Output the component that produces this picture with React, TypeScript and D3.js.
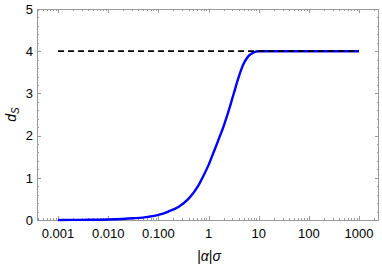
import React, { useEffect, useRef } from 'react'
import * as d3 from 'd3'

// curve: |alpha| sigma vs d_S
const sigmaValues = [0.001, 0.00316, 0.01, 0.0316, 0.063, 0.1, 0.158, 0.251, 0.398, 0.631, 0.794, 1, 1.26, 1.58, 2, 2.51, 3.16, 3.98, 5.01, 6.31, 7.94, 10, 100, 1000]
const dsValues = [0.001, 0.004, 0.012, 0.04, 0.075, 0.12, 0.2, 0.31, 0.5, 0.82, 1.05, 1.3, 1.6, 1.9, 2.22, 2.58, 2.98, 3.38, 3.7, 3.89, 3.97, 4.0, 4.0, 4.0]

const limitX = [0.001, 1000]
const limitY = [4, 4]

const xTickValues = [0.001, 0.01, 0.1, 1, 10, 100, 1000]
const xTickLabels = ['0.001', '0.010', '0.100', '1', '10', '100', '1000']
const yTickValues = [0, 1, 2, 3, 4, 5]

const W = 382
const H = 267
const margin = { left: 37, right: 3, top: 9, bottom: 47 }
const frameColor = '#9a9a9a'

function App() {
    const ref = useRef<SVGSVGElement>(null)

    useEffect(() => {
        const svg = d3.select(ref.current)
        svg.selectAll('*').remove()

        const x0 = margin.left
        const x1 = W - margin.right
        const y0 = H - margin.bottom
        const y1 = margin.top

        const x = d3.scaleLog().domain([Math.pow(10, -3.42), Math.pow(10, 3.4)]).range([x0, x1])
        const y = d3.scaleLinear().domain([0, 5]).range([y0, y1])

        const font = 'Liberation Sans, Arial, sans-serif'

        // minor + major ticks
        const minorX: number[] = []
        for (let e = -4; e <= 3; e++) {
            for (let k = 1; k <= 9; k++) {
                const v = k * Math.pow(10, e)
                if (x(v) >= x0 && x(v) <= x1) minorX.push(v)
            }
        }
        const ticks = svg.append('g').attr('stroke', frameColor).attr('stroke-width', 1)
        minorX.forEach(v => {
            const major = xTickValues.some(t => Math.abs(t - v) / t < 1e-6)
            const len = major ? 4 : 2
            const px = Math.round(x(v)) + 0.5
            ticks.append('line').attr('x1', px).attr('x2', px).attr('y1', y0).attr('y2', y0 - len)
            ticks.append('line').attr('x1', px).attr('x2', px).attr('y1', y1).attr('y2', y1 + len)
        })
        d3.range(0, 5.001, 0.2).forEach(v => {
            const major = Math.abs(v - Math.round(v)) < 1e-6
            const len = major ? 4 : 2
            const py = Math.round(y(v)) + 0.5
            ticks.append('line').attr('x1', x0).attr('x2', x0 + len).attr('y1', py).attr('y2', py)
            ticks.append('line').attr('x1', x1).attr('x2', x1 - len).attr('y1', py).attr('y2', py)
        })

        // frame
        svg.append('rect')
            .attr('x', x0 + 0.5).attr('y', y1 + 0.5)
            .attr('width', x1 - x0 - 1).attr('height', y0 - y1)
            .attr('fill', 'none').attr('stroke', frameColor).attr('stroke-width', 1)

        // curve
        const pts = sigmaValues.map((s, i) => [s, dsValues[i]] as [number, number])
        const line = d3.line<[number, number]>()
            .x(d => x(d[0]))
            .y(d => y(d[1]))
            .curve(d3.curveMonotoneX)
        svg.append('path')
            .attr('d', line(pts))
            .attr('fill', 'none')
            .attr('stroke', '#0000ff')
            .attr('stroke-width', 2.4)

        // asymptote
        svg.append('path')
            .attr('d', line(limitX.map((s, i) => [s, limitY[i]] as [number, number])))
            .attr('fill', 'none')
            .attr('stroke', '#000')
            .attr('stroke-width', 1.8)
            .attr('stroke-dasharray', '6,4')

        // tick labels
        svg.append('g').selectAll('text').data(xTickValues).enter().append('text')
            .attr('x', d => x(d))
            .attr('y', 238)
            .attr('text-anchor', 'middle')
            .attr('font-family', font)
            .attr('font-size', 13)
            .text((d, i) => xTickLabels[i])
        svg.append('g').selectAll('text').data(yTickValues).enter().append('text')
            .attr('x', x0 - 4)
            .attr('y', d => y(d) + 4.7)
            .attr('text-anchor', 'end')
            .attr('font-family', font)
            .attr('font-size', 13)
            .text(d => d)

        // axis labels
        const xl = svg.append('text')
            .attr('x', (x0 + x1) / 2 + 1)
            .attr('y', 261)
            .attr('text-anchor', 'middle')
            .attr('font-family', font)
            .attr('font-size', 14)
        xl.append('tspan').text('|')
        xl.append('tspan').attr('font-style', 'italic').text('α')
        xl.append('tspan').text('|')
        xl.append('tspan').attr('font-style', 'italic').text('σ')

        const yl = svg.append('text')
            .attr('transform', `translate(16, ${(y0 + y1) / 2}) rotate(-90)`)
            .attr('text-anchor', 'middle')
            .attr('font-family', font)
            .attr('font-size', 14)
        yl.append('tspan').attr('font-style', 'italic').text('d')
        yl.append('tspan').attr('font-style', 'italic').attr('font-size', 10).attr('dy', 3).text('S')
    }, [])

    return (
        <svg ref={ref} width={W} height={H}
            style={{ position: 'absolute', left: 0, top: 0, background: '#fff' }} />
    )
}

export default App
